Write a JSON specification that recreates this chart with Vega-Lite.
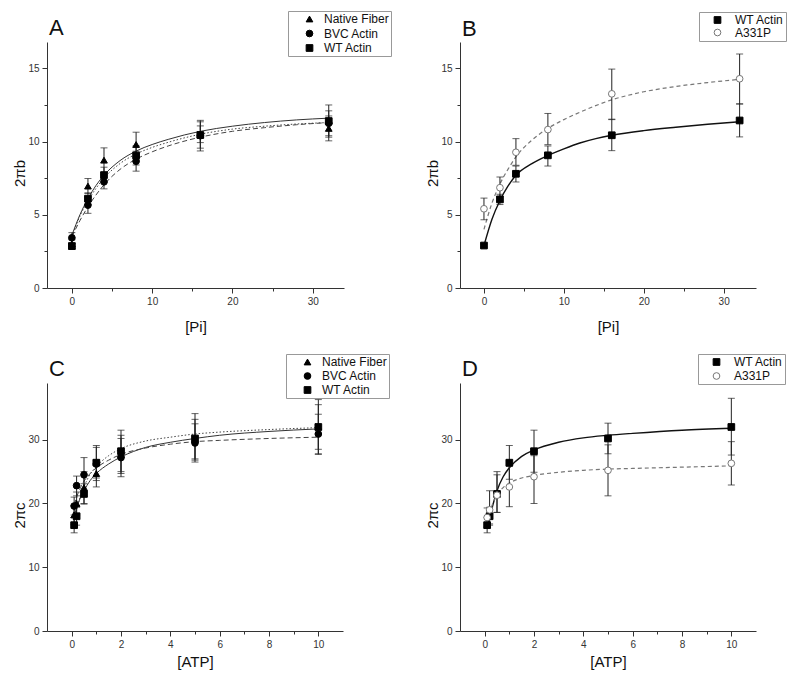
{
  "$schema": "https://vega.github.io/schema/vega-lite/v6.json",
  "padding": {"left": 12, "top": 10, "right": 5, "bottom": 5},
  "config": {
    "font": "Liberation Sans",
    "view": {"stroke": null},
    "axis": {"grid": false, "domainColor": "#333", "tickColor": "#333", "labelColor": "#333", "titleColor": "#111", "labelFontSize": 10, "titleFontSize": 15, "titleFontWeight": "normal", "domainWidth": 1, "tickWidth": 1, "labelOverlap": false, "labelPadding": 3},
    "legend": {"strokeColor": "#999", "fillColor": "#ffffff", "padding": 2, "labelFontSize": 12, "labelColor": "#111", "symbolSize": 45, "symbolStrokeWidth": 1, "labelOffset": 8.5, "symbolOffset": 13.5},
    "title": {"fontSize": 22, "fontWeight": "normal", "color": "#111", "anchor": "start", "frame": "group"}
  },
  "datasets": {
    "pts": [
      {"p":"A","s":"Native Fiber","x":0,"y":3.0,"lo":2.7,"hi":3.3},
      {"p":"A","s":"Native Fiber","x":2,"y":6.96,"lo":6.45,"hi":7.48},
      {"p":"A","s":"Native Fiber","x":4,"y":8.73,"lo":7.9,"hi":9.57},
      {"p":"A","s":"Native Fiber","x":8,"y":9.8,"lo":8.95,"hi":10.64},
      {"p":"A","s":"Native Fiber","x":16,"y":10.45,"lo":9.55,"hi":11.35},
      {"p":"A","s":"Native Fiber","x":32,"y":10.9,"lo":10.05,"hi":11.75},
      {"p":"A","s":"BVC Actin","x":0,"y":3.43,"lo":3.08,"hi":3.78},
      {"p":"A","s":"BVC Actin","x":2,"y":5.66,"lo":5.1,"hi":6.2},
      {"p":"A","s":"BVC Actin","x":4,"y":7.25,"lo":6.77,"hi":7.73},
      {"p":"A","s":"BVC Actin","x":8,"y":8.66,"lo":7.98,"hi":9.34},
      {"p":"A","s":"BVC Actin","x":16,"y":10.4,"lo":9.93,"hi":11.07},
      {"p":"A","s":"BVC Actin","x":32,"y":11.25,"lo":10.4,"hi":12.1},
      {"p":"A","s":"WT Actin","x":0,"y":2.86,"lo":2.66,"hi":3.06},
      {"p":"A","s":"WT Actin","x":2,"y":6.1,"lo":5.7,"hi":6.5},
      {"p":"A","s":"WT Actin","x":4,"y":7.71,"lo":7.2,"hi":8.25},
      {"p":"A","s":"WT Actin","x":8,"y":9.05,"lo":8.4,"hi":9.7},
      {"p":"A","s":"WT Actin","x":16,"y":10.45,"lo":9.36,"hi":11.45},
      {"p":"A","s":"WT Actin","x":32,"y":11.4,"lo":10.3,"hi":12.5},
      {"p":"B","s":"WT Actin","x":0,"y":2.9,"lo":2.8,"hi":3.0},
      {"p":"B","s":"WT Actin","x":2,"y":6.05,"lo":5.7,"hi":6.4},
      {"p":"B","s":"WT Actin","x":4,"y":7.8,"lo":7.24,"hi":8.33},
      {"p":"B","s":"WT Actin","x":8,"y":9.06,"lo":8.33,"hi":9.7},
      {"p":"B","s":"WT Actin","x":16,"y":10.43,"lo":9.38,"hi":11.53},
      {"p":"B","s":"WT Actin","x":32,"y":11.44,"lo":10.32,"hi":12.58},
      {"p":"B","s":"A331P","x":0,"y":5.41,"lo":4.66,"hi":6.14},
      {"p":"B","s":"A331P","x":2,"y":6.85,"lo":6.26,"hi":7.58},
      {"p":"B","s":"A331P","x":4,"y":9.27,"lo":8.38,"hi":10.2},
      {"p":"B","s":"A331P","x":8,"y":10.82,"lo":9.79,"hi":11.92},
      {"p":"B","s":"A331P","x":16,"y":13.26,"lo":11.5,"hi":14.95},
      {"p":"B","s":"A331P","x":32,"y":14.29,"lo":12.56,"hi":15.98},
      {"p":"C","s":"Native Fiber","x":0.1,"y":18.2,"lo":16.7,"hi":19.7},
      {"p":"C","s":"Native Fiber","x":0.2,"y":20.0,"lo":18.2,"hi":21.8},
      {"p":"C","s":"Native Fiber","x":0.5,"y":22.5,"lo":20.0,"hi":25.0},
      {"p":"C","s":"Native Fiber","x":1,"y":24.7,"lo":22.6,"hi":26.8},
      {"p":"C","s":"Native Fiber","x":2,"y":27.7,"lo":24.7,"hi":30.7},
      {"p":"C","s":"Native Fiber","x":5,"y":30.0,"lo":26.8,"hi":33.2},
      {"p":"C","s":"Native Fiber","x":10,"y":32.0,"lo":28.5,"hi":35.5},
      {"p":"C","s":"BVC Actin","x":0.1,"y":19.6,"lo":18.2,"hi":21.0},
      {"p":"C","s":"BVC Actin","x":0.2,"y":22.8,"lo":21.2,"hi":24.3},
      {"p":"C","s":"BVC Actin","x":0.5,"y":24.5,"lo":21.8,"hi":27.2},
      {"p":"C","s":"BVC Actin","x":1,"y":26.2,"lo":23.6,"hi":28.8},
      {"p":"C","s":"BVC Actin","x":2,"y":27.2,"lo":24.2,"hi":30.2},
      {"p":"C","s":"BVC Actin","x":5,"y":29.5,"lo":26.5,"hi":32.5},
      {"p":"C","s":"BVC Actin","x":10,"y":30.9,"lo":27.8,"hi":34.0},
      {"p":"C","s":"WT Actin","x":0.1,"y":16.6,"lo":15.4,"hi":17.8},
      {"p":"C","s":"WT Actin","x":0.2,"y":18.0,"lo":16.6,"hi":19.4},
      {"p":"C","s":"WT Actin","x":0.5,"y":21.5,"lo":19.9,"hi":23.1},
      {"p":"C","s":"WT Actin","x":1,"y":26.4,"lo":24.0,"hi":29.1},
      {"p":"C","s":"WT Actin","x":2,"y":28.2,"lo":25.0,"hi":31.5},
      {"p":"C","s":"WT Actin","x":5,"y":30.2,"lo":27.0,"hi":34.1},
      {"p":"C","s":"WT Actin","x":10,"y":32.0,"lo":27.7,"hi":36.3},
      {"p":"D","s":"WT Actin","x":0.1,"y":16.6,"lo":15.4,"hi":17.8},
      {"p":"D","s":"WT Actin","x":0.2,"y":18.0,"lo":16.6,"hi":19.4},
      {"p":"D","s":"WT Actin","x":0.5,"y":21.5,"lo":18.6,"hi":25.0},
      {"p":"D","s":"WT Actin","x":1,"y":26.4,"lo":23.8,"hi":29.1},
      {"p":"D","s":"WT Actin","x":2,"y":28.2,"lo":24.9,"hi":31.5},
      {"p":"D","s":"WT Actin","x":5,"y":30.2,"lo":27.8,"hi":32.6},
      {"p":"D","s":"WT Actin","x":10,"y":32.0,"lo":27.6,"hi":36.5},
      {"p":"D","s":"A331P","x":0.1,"y":17.8,"lo":16.3,"hi":19.3},
      {"p":"D","s":"A331P","x":0.2,"y":19.0,"lo":16.8,"hi":22.0},
      {"p":"D","s":"A331P","x":0.5,"y":21.3,"lo":18.6,"hi":24.5},
      {"p":"D","s":"A331P","x":1,"y":22.6,"lo":19.5,"hi":25.8},
      {"p":"D","s":"A331P","x":2,"y":24.2,"lo":20.0,"hi":27.5},
      {"p":"D","s":"A331P","x":5,"y":25.2,"lo":21.2,"hi":29.2},
      {"p":"D","s":"A331P","x":10,"y":26.3,"lo":22.9,"hi":29.7}
    ],
    "fit": [
      {"p":"A","s":"Native Fiber","x":0,"y":3.6},{"p":"A","s":"Native Fiber","x":1,"y":5.0},{"p":"A","s":"Native Fiber","x":2,"y":6.1},{"p":"A","s":"Native Fiber","x":3,"y":7.0},{"p":"A","s":"Native Fiber","x":4,"y":7.7},{"p":"A","s":"Native Fiber","x":6,"y":8.7},{"p":"A","s":"Native Fiber","x":8,"y":9.35},{"p":"A","s":"Native Fiber","x":10,"y":9.8},{"p":"A","s":"Native Fiber","x":12,"y":10.15},{"p":"A","s":"Native Fiber","x":16,"y":10.7},{"p":"A","s":"Native Fiber","x":20,"y":11.05},{"p":"A","s":"Native Fiber","x":24,"y":11.3},{"p":"A","s":"Native Fiber","x":28,"y":11.48},{"p":"A","s":"Native Fiber","x":32,"y":11.6},
      {"p":"A","s":"WT Actin","x":0,"y":3.5},{"p":"A","s":"WT Actin","x":1,"y":4.9},{"p":"A","s":"WT Actin","x":2,"y":5.95},{"p":"A","s":"WT Actin","x":3,"y":6.8},{"p":"A","s":"WT Actin","x":4,"y":7.5},{"p":"A","s":"WT Actin","x":6,"y":8.5},{"p":"A","s":"WT Actin","x":8,"y":9.15},{"p":"A","s":"WT Actin","x":10,"y":9.6},{"p":"A","s":"WT Actin","x":12,"y":9.95},{"p":"A","s":"WT Actin","x":16,"y":10.5},{"p":"A","s":"WT Actin","x":20,"y":10.85},{"p":"A","s":"WT Actin","x":24,"y":11.05},{"p":"A","s":"WT Actin","x":28,"y":11.2},{"p":"A","s":"WT Actin","x":32,"y":11.3},
      {"p":"A","s":"BVC Actin","x":0,"y":3.5},{"p":"A","s":"BVC Actin","x":1,"y":4.6},{"p":"A","s":"BVC Actin","x":2,"y":5.55},{"p":"A","s":"BVC Actin","x":3,"y":6.35},{"p":"A","s":"BVC Actin","x":4,"y":7.05},{"p":"A","s":"BVC Actin","x":6,"y":8.1},{"p":"A","s":"BVC Actin","x":8,"y":8.8},{"p":"A","s":"BVC Actin","x":10,"y":9.3},{"p":"A","s":"BVC Actin","x":12,"y":9.7},{"p":"A","s":"BVC Actin","x":16,"y":10.3},{"p":"A","s":"BVC Actin","x":20,"y":10.7},{"p":"A","s":"BVC Actin","x":24,"y":10.95},{"p":"A","s":"BVC Actin","x":28,"y":11.15},{"p":"A","s":"BVC Actin","x":32,"y":11.3},
      {"p":"B","s":"WT Actin","x":0,"y":2.9},{"p":"B","s":"WT Actin","x":1,"y":4.7},{"p":"B","s":"WT Actin","x":2,"y":5.98},{"p":"B","s":"WT Actin","x":3,"y":6.95},{"p":"B","s":"WT Actin","x":4,"y":7.7},{"p":"B","s":"WT Actin","x":6,"y":8.5},{"p":"B","s":"WT Actin","x":8,"y":9.05},{"p":"B","s":"WT Actin","x":10,"y":9.5},{"p":"B","s":"WT Actin","x":12,"y":9.9},{"p":"B","s":"WT Actin","x":14,"y":10.2},{"p":"B","s":"WT Actin","x":16,"y":10.43},{"p":"B","s":"WT Actin","x":20,"y":10.75},{"p":"B","s":"WT Actin","x":24,"y":10.98},{"p":"B","s":"WT Actin","x":28,"y":11.18},{"p":"B","s":"WT Actin","x":32,"y":11.35},
      {"p":"B","s":"A331P","x":0,"y":4.0},{"p":"B","s":"A331P","x":1,"y":5.8},{"p":"B","s":"A331P","x":2,"y":7.1},{"p":"B","s":"A331P","x":3,"y":8.1},{"p":"B","s":"A331P","x":4,"y":8.95},{"p":"B","s":"A331P","x":6,"y":10.1},{"p":"B","s":"A331P","x":8,"y":10.9},{"p":"B","s":"A331P","x":10,"y":11.5},{"p":"B","s":"A331P","x":12,"y":12.0},{"p":"B","s":"A331P","x":16,"y":12.85},{"p":"B","s":"A331P","x":20,"y":13.4},{"p":"B","s":"A331P","x":24,"y":13.76},{"p":"B","s":"A331P","x":28,"y":14.03},{"p":"B","s":"A331P","x":32,"y":14.25},
      {"p":"C","s":"Native Fiber","x":0.1,"y":18.0},{"p":"C","s":"Native Fiber","x":0.2,"y":19.3},{"p":"C","s":"Native Fiber","x":0.3,"y":20.4},{"p":"C","s":"Native Fiber","x":0.5,"y":22.0},{"p":"C","s":"Native Fiber","x":0.75,"y":23.6},{"p":"C","s":"Native Fiber","x":1,"y":24.7},{"p":"C","s":"Native Fiber","x":1.5,"y":26.2},{"p":"C","s":"Native Fiber","x":2,"y":27.3},{"p":"C","s":"Native Fiber","x":3,"y":28.8},{"p":"C","s":"Native Fiber","x":4,"y":29.6},{"p":"C","s":"Native Fiber","x":5,"y":30.2},{"p":"C","s":"Native Fiber","x":6,"y":30.7},{"p":"C","s":"Native Fiber","x":8,"y":31.3},{"p":"C","s":"Native Fiber","x":10,"y":31.7},
      {"p":"C","s":"WT Actin","x":0.1,"y":17.5},{"p":"C","s":"WT Actin","x":0.2,"y":19.0},{"p":"C","s":"WT Actin","x":0.3,"y":20.4},{"p":"C","s":"WT Actin","x":0.5,"y":22.6},{"p":"C","s":"WT Actin","x":0.75,"y":24.6},{"p":"C","s":"WT Actin","x":1,"y":25.8},{"p":"C","s":"WT Actin","x":1.5,"y":27.5},{"p":"C","s":"WT Actin","x":2,"y":28.6},{"p":"C","s":"WT Actin","x":3,"y":29.8},{"p":"C","s":"WT Actin","x":4,"y":30.4},{"p":"C","s":"WT Actin","x":5,"y":30.9},{"p":"C","s":"WT Actin","x":6,"y":31.2},{"p":"C","s":"WT Actin","x":8,"y":31.6},{"p":"C","s":"WT Actin","x":10,"y":31.9},
      {"p":"C","s":"BVC Actin","x":0.1,"y":19.8},{"p":"C","s":"BVC Actin","x":0.2,"y":21.0},{"p":"C","s":"BVC Actin","x":0.3,"y":22.0},{"p":"C","s":"BVC Actin","x":0.5,"y":23.5},{"p":"C","s":"BVC Actin","x":0.75,"y":24.7},{"p":"C","s":"BVC Actin","x":1,"y":25.6},{"p":"C","s":"BVC Actin","x":1.5,"y":26.8},{"p":"C","s":"BVC Actin","x":2,"y":27.7},{"p":"C","s":"BVC Actin","x":3,"y":28.7},{"p":"C","s":"BVC Actin","x":4,"y":29.3},{"p":"C","s":"BVC Actin","x":5,"y":29.7},{"p":"C","s":"BVC Actin","x":6,"y":29.9},{"p":"C","s":"BVC Actin","x":8,"y":30.2},{"p":"C","s":"BVC Actin","x":10,"y":30.4},
      {"p":"D","s":"WT Actin","x":0.1,"y":16.6},{"p":"D","s":"WT Actin","x":0.2,"y":17.9},{"p":"D","s":"WT Actin","x":0.3,"y":19.3},{"p":"D","s":"WT Actin","x":0.5,"y":22.0},{"p":"D","s":"WT Actin","x":0.75,"y":24.2},{"p":"D","s":"WT Actin","x":1,"y":25.6},{"p":"D","s":"WT Actin","x":1.5,"y":27.4},{"p":"D","s":"WT Actin","x":2,"y":28.4},{"p":"D","s":"WT Actin","x":3,"y":29.6},{"p":"D","s":"WT Actin","x":4,"y":30.3},{"p":"D","s":"WT Actin","x":5,"y":30.7},{"p":"D","s":"WT Actin","x":6,"y":31.0},{"p":"D","s":"WT Actin","x":8,"y":31.5},{"p":"D","s":"WT Actin","x":10,"y":31.8},
      {"p":"D","s":"A331P","x":0.1,"y":17.3},{"p":"D","s":"A331P","x":0.2,"y":18.6},{"p":"D","s":"A331P","x":0.3,"y":19.7},{"p":"D","s":"A331P","x":0.5,"y":21.3},{"p":"D","s":"A331P","x":0.75,"y":22.5},{"p":"D","s":"A331P","x":1,"y":23.2},{"p":"D","s":"A331P","x":1.5,"y":24.0},{"p":"D","s":"A331P","x":2,"y":24.4},{"p":"D","s":"A331P","x":3,"y":24.9},{"p":"D","s":"A331P","x":4,"y":25.2},{"p":"D","s":"A331P","x":5,"y":25.4},{"p":"D","s":"A331P","x":6,"y":25.5},{"p":"D","s":"A331P","x":8,"y":25.7},{"p":"D","s":"A331P","x":10,"y":25.9}
    ]
  },
  "columns": 2,
  "spacing": {"row": 95, "column": 116},
  "bounds": "flush",
  "resolve": {
    "scale": {"shape": "independent", "fill": "independent", "stroke": "independent"},
    "legend": {"shape": "independent", "fill": "independent", "stroke": "independent"}
  },
  "concat": [
    {
      "width": 297, "height": 246,
      "title": {"text": "A", "offset": -29.3, "dx": 2},
      "encoding": {
        "x": {"field": "x", "type": "quantitative", "title": "[Pi]", "scale": {"domain": [-3.1, 33.9], "nice": false, "zero": false},
              "axis": {"values": [0,5,10,15,20,25,30], "labelExpr": "datum.value % 10 === 0 ? datum.label : ''", "tickSize": {"condition": {"test": "datum.value % 10 === 0", "value": 5}, "value": 3}, "titlePadding": 13}}
      },
      "layer": [
        {"data": {"name": "fit"}, "transform": [{"filter": "datum.p === 'A' && datum.s === 'Native Fiber'"}],
         "mark": {"type": "line", "strokeWidth": 1, "color": "#333", "interpolate": "monotone"},
         "encoding": {
           "y": {"field": "y", "type": "quantitative", "title": "2πb", "scale": {"domain": [0, 16.8], "nice": false},
                 "axis": {"values": [0,2.5,5,7.5,10,12.5,15], "labelExpr": "datum.value % 5 === 0 ? datum.label : ''", "tickSize": {"condition": {"test": "datum.value % 5 === 0", "value": 5}, "value": 3}, "titlePadding": 0, "titleY": 131}}
         }},
        {"data": {"name": "fit"}, "transform": [{"filter": "datum.p === 'A' && datum.s === 'BVC Actin'"}],
         "mark": {"type": "line", "strokeWidth": 1, "color": "#444", "strokeDash": [5, 3], "interpolate": "monotone"},
         "encoding": {"y": {"field": "y", "type": "quantitative", "title": "2πb"}}},
        {"data": {"name": "fit"}, "transform": [{"filter": "datum.p === 'A' && datum.s === 'WT Actin'"}],
         "mark": {"type": "line", "strokeWidth": 1, "color": "#444", "strokeDash": [1.5, 2], "interpolate": "monotone"},
         "encoding": {"y": {"field": "y", "type": "quantitative", "title": "2πb"}}},
        {"data": {"name": "pts"}, "transform": [{"filter": "datum.p === 'A'"}],
         "mark": {"type": "rule", "color": "#222", "strokeWidth": 1},
         "encoding": {"y": {"field": "lo", "type": "quantitative", "title": "2πb"}, "y2": {"field": "hi"}}},
        {"data": {"name": "pts"}, "transform": [{"filter": "datum.p === 'A'"}],
         "mark": {"type": "tick", "orient": "horizontal", "size": 7, "thickness": 1, "color": "#222"},
         "encoding": {"y": {"field": "hi", "type": "quantitative", "title": "2πb"}}},
        {"data": {"name": "pts"}, "transform": [{"filter": "datum.p === 'A'"}],
         "mark": {"type": "tick", "orient": "horizontal", "size": 7, "thickness": 1, "color": "#222"},
         "encoding": {"y": {"field": "lo", "type": "quantitative", "title": "2πb"}}},
        {"data": {"name": "pts"}, "transform": [{"filter": "datum.p === 'A'"}],
         "mark": {"type": "point", "filled": true, "size": 45, "strokeWidth": 1, "opacity": 1},
         "encoding": {
           "y": {"field": "y", "type": "quantitative", "title": "2πb"},
           "shape": {"field": "s", "type": "nominal", "scale": {"domain": ["Native Fiber","BVC Actin","WT Actin"], "range": ["triangle-up","circle","square"]}, "legend": {"title": null, "orient": "none", "direction": "vertical", "legendX": 241, "legendY": -31, "rowPadding": 2.5}},
           "fill": {"field": "s", "type": "nominal", "scale": {"domain": ["Native Fiber","BVC Actin","WT Actin"], "range": ["#000","#000","#000"]}, "legend": {"title": null, "orient": "none", "direction": "vertical", "legendX": 241, "legendY": -31, "rowPadding": 2.5}},
           "stroke": {"field": "s", "type": "nominal", "scale": {"domain": ["Native Fiber","BVC Actin","WT Actin"], "range": ["#000","#000","#000"]}, "legend": {"title": null, "orient": "none", "direction": "vertical", "legendX": 241, "legendY": -31, "rowPadding": 2.5}}
         }}
      ]
    },
    {
      "width": 296, "height": 246,
      "title": {"text": "B", "offset": -29, "dx": 2},
      "encoding": {
        "x": {"field": "x", "type": "quantitative", "title": "[Pi]", "scale": {"domain": [-3.0, 34.05], "nice": false, "zero": false},
              "axis": {"values": [0,5,10,15,20,25,30], "labelExpr": "datum.value % 10 === 0 ? datum.label : ''", "tickSize": {"condition": {"test": "datum.value % 10 === 0", "value": 5}, "value": 3}, "titlePadding": 13}}
      },
      "layer": [
        {"data": {"name": "fit"}, "transform": [{"filter": "datum.p === 'B' && datum.s === 'WT Actin'"}],
         "mark": {"type": "line", "strokeWidth": 1.4, "color": "#111", "interpolate": "monotone"},
         "encoding": {
           "y": {"field": "y", "type": "quantitative", "title": "2πb", "scale": {"domain": [0, 16.8], "nice": false},
                 "axis": {"values": [0,2.5,5,7.5,10,12.5,15], "labelExpr": "datum.value % 5 === 0 ? datum.label : ''", "tickSize": {"condition": {"test": "datum.value % 5 === 0", "value": 5}, "value": 3}, "titlePadding": 0, "titleY": 131}}
         }},
        {"data": {"name": "fit"}, "transform": [{"filter": "datum.p === 'B' && datum.s === 'A331P'"}],
         "mark": {"type": "line", "strokeWidth": 1.2, "color": "#777", "strokeDash": [4, 3], "interpolate": "monotone"},
         "encoding": {"y": {"field": "y", "type": "quantitative", "title": "2πb"}}},
        {"data": {"name": "pts"}, "transform": [{"filter": "datum.p === 'B'"}],
         "mark": {"type": "rule", "color": "#222", "strokeWidth": 1},
         "encoding": {"y": {"field": "lo", "type": "quantitative", "title": "2πb"}, "y2": {"field": "hi"}}},
        {"data": {"name": "pts"}, "transform": [{"filter": "datum.p === 'B'"}],
         "mark": {"type": "tick", "orient": "horizontal", "size": 7, "thickness": 1, "color": "#222"},
         "encoding": {"y": {"field": "hi", "type": "quantitative", "title": "2πb"}}},
        {"data": {"name": "pts"}, "transform": [{"filter": "datum.p === 'B'"}],
         "mark": {"type": "tick", "orient": "horizontal", "size": 7, "thickness": 1, "color": "#222"},
         "encoding": {"y": {"field": "lo", "type": "quantitative", "title": "2πb"}}},
        {"data": {"name": "pts"}, "transform": [{"filter": "datum.p === 'B'"}],
         "mark": {"type": "point", "filled": true, "size": 45, "strokeWidth": 1, "opacity": 1},
         "encoding": {
           "y": {"field": "y", "type": "quantitative", "title": "2πb"},
           "shape": {"field": "s", "type": "nominal", "scale": {"domain": ["WT Actin","A331P"], "range": ["square","circle"]}, "legend": {"title": null, "orient": "none", "direction": "vertical", "legendX": 239, "legendY": -30, "rowPadding": 0.5, "symbolOffset": 10.5, "labelOffset": 11.5}},
           "fill": {"field": "s", "type": "nominal", "scale": {"domain": ["WT Actin","A331P"], "range": ["#000","#fff"]}, "legend": {"title": null, "orient": "none", "direction": "vertical", "legendX": 239, "legendY": -30, "rowPadding": 0.5, "symbolOffset": 10.5, "labelOffset": 11.5}},
           "stroke": {"field": "s", "type": "nominal", "scale": {"domain": ["WT Actin","A331P"], "range": ["#000","#777"]}, "legend": {"title": null, "orient": "none", "direction": "vertical", "legendX": 239, "legendY": -30, "rowPadding": 0.5, "symbolOffset": 10.5, "labelOffset": 11.5}}
         }}
      ]
    },
    {
      "width": 296, "height": 248,
      "title": {"text": "C", "offset": -27, "dx": 2},
      "encoding": {
        "x": {"field": "x", "type": "quantitative", "title": "[ATP]", "scale": {"domain": [-1, 11], "nice": false, "zero": false},
              "axis": {"values": [0,1,2,3,4,5,6,7,8,9,10], "labelExpr": "datum.value % 2 === 0 ? datum.label : ''", "tickSize": {"condition": {"test": "datum.value % 2 === 0", "value": 5}, "value": 3}, "titlePadding": 5}}
      },
      "layer": [
        {"data": {"name": "fit"}, "transform": [{"filter": "datum.p === 'C' && datum.s === 'Native Fiber'"}],
         "mark": {"type": "line", "strokeWidth": 1, "color": "#333", "interpolate": "monotone"},
         "encoding": {
           "y": {"field": "y", "type": "quantitative", "title": "2πc", "scale": {"domain": [0, 38.9], "nice": false},
                 "axis": {"values": [0,5,10,15,20,25,30,35], "labelExpr": "datum.value % 10 === 0 ? datum.label : ''", "tickSize": {"condition": {"test": "datum.value % 10 === 0", "value": 5}, "value": 3}, "titlePadding": 0, "titleY": 132}}
         }},
        {"data": {"name": "fit"}, "transform": [{"filter": "datum.p === 'C' && datum.s === 'BVC Actin'"}],
         "mark": {"type": "line", "strokeWidth": 1, "color": "#444", "strokeDash": [5, 3], "interpolate": "monotone"},
         "encoding": {"y": {"field": "y", "type": "quantitative", "title": "2πc"}}},
        {"data": {"name": "fit"}, "transform": [{"filter": "datum.p === 'C' && datum.s === 'WT Actin'"}],
         "mark": {"type": "line", "strokeWidth": 1, "color": "#444", "strokeDash": [1.5, 2], "interpolate": "monotone"},
         "encoding": {"y": {"field": "y", "type": "quantitative", "title": "2πc"}}},
        {"data": {"name": "pts"}, "transform": [{"filter": "datum.p === 'C'"}],
         "mark": {"type": "rule", "color": "#222", "strokeWidth": 1},
         "encoding": {"y": {"field": "lo", "type": "quantitative", "title": "2πc"}, "y2": {"field": "hi"}}},
        {"data": {"name": "pts"}, "transform": [{"filter": "datum.p === 'C'"}],
         "mark": {"type": "tick", "orient": "horizontal", "size": 7, "thickness": 1, "color": "#222"},
         "encoding": {"y": {"field": "hi", "type": "quantitative", "title": "2πc"}}},
        {"data": {"name": "pts"}, "transform": [{"filter": "datum.p === 'C'"}],
         "mark": {"type": "tick", "orient": "horizontal", "size": 7, "thickness": 1, "color": "#222"},
         "encoding": {"y": {"field": "lo", "type": "quantitative", "title": "2πc"}}},
        {"data": {"name": "pts"}, "transform": [{"filter": "datum.p === 'C'"}],
         "mark": {"type": "point", "filled": true, "size": 45, "strokeWidth": 1, "opacity": 1},
         "encoding": {
           "y": {"field": "y", "type": "quantitative", "title": "2πc"},
           "shape": {"field": "s", "type": "nominal", "scale": {"domain": ["Native Fiber","BVC Actin","WT Actin"], "range": ["triangle-up","circle","square"]}, "legend": {"title": null, "orient": "none", "direction": "vertical", "legendX": 239, "legendY": -29, "rowPadding": 2}},
           "fill": {"field": "s", "type": "nominal", "scale": {"domain": ["Native Fiber","BVC Actin","WT Actin"], "range": ["#000","#000","#000"]}, "legend": {"title": null, "orient": "none", "direction": "vertical", "legendX": 239, "legendY": -29, "rowPadding": 2}},
           "stroke": {"field": "s", "type": "nominal", "scale": {"domain": ["Native Fiber","BVC Actin","WT Actin"], "range": ["#000","#000","#000"]}, "legend": {"title": null, "orient": "none", "direction": "vertical", "legendX": 239, "legendY": -29, "rowPadding": 2}}
         }}
      ]
    },
    {
      "width": 296, "height": 248,
      "title": {"text": "D", "offset": -27, "dx": 2},
      "encoding": {
        "x": {"field": "x", "type": "quantitative", "title": "[ATP]", "scale": {"domain": [-1, 11], "nice": false, "zero": false},
              "axis": {"values": [0,1,2,3,4,5,6,7,8,9,10], "labelExpr": "datum.value % 2 === 0 ? datum.label : ''", "tickSize": {"condition": {"test": "datum.value % 2 === 0", "value": 5}, "value": 3}, "titlePadding": 5}}
      },
      "layer": [
        {"data": {"name": "fit"}, "transform": [{"filter": "datum.p === 'D' && datum.s === 'WT Actin'"}],
         "mark": {"type": "line", "strokeWidth": 1.4, "color": "#111", "interpolate": "monotone"},
         "encoding": {
           "y": {"field": "y", "type": "quantitative", "title": "2πc", "scale": {"domain": [0, 38.9], "nice": false},
                 "axis": {"values": [0,5,10,15,20,25,30,35], "labelExpr": "datum.value % 10 === 0 ? datum.label : ''", "tickSize": {"condition": {"test": "datum.value % 10 === 0", "value": 5}, "value": 3}, "titlePadding": 0, "titleY": 132}}
         }},
        {"data": {"name": "fit"}, "transform": [{"filter": "datum.p === 'D' && datum.s === 'A331P'"}],
         "mark": {"type": "line", "strokeWidth": 1.2, "color": "#777", "strokeDash": [4, 3], "interpolate": "monotone"},
         "encoding": {"y": {"field": "y", "type": "quantitative", "title": "2πc"}}},
        {"data": {"name": "pts"}, "transform": [{"filter": "datum.p === 'D'"}],
         "mark": {"type": "rule", "color": "#222", "strokeWidth": 1},
         "encoding": {"y": {"field": "lo", "type": "quantitative", "title": "2πc"}, "y2": {"field": "hi"}}},
        {"data": {"name": "pts"}, "transform": [{"filter": "datum.p === 'D'"}],
         "mark": {"type": "tick", "orient": "horizontal", "size": 7, "thickness": 1, "color": "#222"},
         "encoding": {"y": {"field": "hi", "type": "quantitative", "title": "2πc"}}},
        {"data": {"name": "pts"}, "transform": [{"filter": "datum.p === 'D'"}],
         "mark": {"type": "tick", "orient": "horizontal", "size": 7, "thickness": 1, "color": "#222"},
         "encoding": {"y": {"field": "lo", "type": "quantitative", "title": "2πc"}}},
        {"data": {"name": "pts"}, "transform": [{"filter": "datum.p === 'D'"}],
         "mark": {"type": "point", "filled": true, "size": 45, "strokeWidth": 1, "opacity": 1},
         "encoding": {
           "y": {"field": "y", "type": "quantitative", "title": "2πc"},
           "shape": {"field": "s", "type": "nominal", "scale": {"domain": ["WT Actin","A331P"], "range": ["square","circle"]}, "legend": {"title": null, "orient": "none", "direction": "vertical", "legendX": 238, "legendY": -29, "rowPadding": 2, "symbolOffset": 10.5, "labelOffset": 11.5}},
           "fill": {"field": "s", "type": "nominal", "scale": {"domain": ["WT Actin","A331P"], "range": ["#000","#fff"]}, "legend": {"title": null, "orient": "none", "direction": "vertical", "legendX": 238, "legendY": -29, "rowPadding": 2, "symbolOffset": 10.5, "labelOffset": 11.5}},
           "stroke": {"field": "s", "type": "nominal", "scale": {"domain": ["WT Actin","A331P"], "range": ["#000","#777"]}, "legend": {"title": null, "orient": "none", "direction": "vertical", "legendX": 238, "legendY": -29, "rowPadding": 2, "symbolOffset": 10.5, "labelOffset": 11.5}}
         }}
      ]
    }
  ]
}
